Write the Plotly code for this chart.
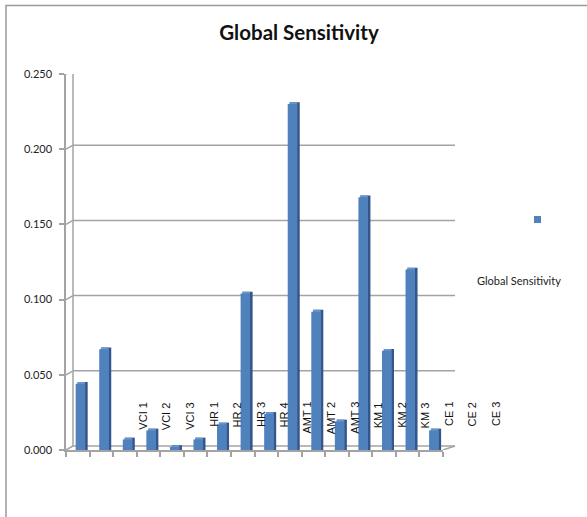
import plotly.graph_objects as go

# ---- data ----
categories = ["VCI 1", "VCI 2", "VCI 3", "HR 1", "HR 2", "HR 3", "HR 4",
              "AMT 1", "AMT 2", "AMT 3", "KM 1", "KM 2", "KM 3",
              "CE 1", "CE 2", "CE 3"]
values = [0.044, 0.067, 0.007, 0.013, 0.002, 0.007, 0.017, 0.104,
          0.024, 0.230, 0.092, 0.019, 0.168, 0.066, 0.120, 0.013]
y_ticks = [0.0, 0.05, 0.10, 0.15, 0.20, 0.25]
series_name = "Global Sensitivity"

W, H = 587, 517
ML, MR, MT, MB = 66, 144, 74, 67
PW = W - ML - MR
PH = H - MT - MB

FRONT = "#4F81BD"
SIDE = "#34568A"
TOP = "#6A95CB"
GRID = "#a3a3a3"

n = len(values)
xs = list(range(n))
lift = 0.0012

fig = go.Figure()
fig.add_trace(go.Bar(x=xs, y=[v + lift for v in values], offset=0.0, width=0.42,
                     marker=dict(color=SIDE, line=dict(width=0)), showlegend=False,
                     hoverinfo="skip"))
fig.add_trace(go.Bar(x=xs, y=[v + lift for v in values], offset=-0.02, width=0.33,
                     marker=dict(color=TOP, line=dict(width=0)), showlegend=False,
                     hoverinfo="skip"))
fig.add_trace(go.Bar(x=xs, y=values, offset=-0.09, width=0.40, name=series_name,
                     marker=dict(color=FRONT, line=dict(width=0)), showlegend=False))

shapes = []
DX, DY = 7, 4
for v in y_ticks:
    shapes.append(dict(type="line", layer="below", xref="paper", xsizemode="pixel", xanchor=0,
                       x0=0, x1=DX, yref="y", ysizemode="pixel", yanchor=v, y0=0, y1=DY,
                       line=dict(color=GRID, width=1.5)))
    shapes.append(dict(type="line", layer="below", xref="paper", xsizemode="pixel", xanchor=0,
                       x0=DX, x1=PW + 12, yref="y", ysizemode="pixel", yanchor=v, y0=DY, y1=DY,
                       line=dict(color=GRID, width=1.5)))
shapes.append(dict(type="line", layer="below", xref="paper", xsizemode="pixel", xanchor=0,
                   x0=DX, x1=DX, yref="y", ysizemode="pixel", yanchor=0, y0=DY, y1=DY + PH,
                   line=dict(color=GRID, width=1.5)))
shapes.append(dict(type="line", layer="below", xref="paper", xsizemode="pixel", xanchor=1,
                   x0=0, x1=12, yref="y", ysizemode="pixel", yanchor=0, y0=0, y1=DY,
                   line=dict(color=GRID, width=1.5)))
shapes.append(dict(type="rect", layer="below", xref="paper", yref="paper",
                   x0=(6 - ML) / PW, x1=2.0, y0=-1.0, y1=(H - MB - 5.5) / PH,
                   line=dict(color="#9a9a9a", width=1.5), fillcolor="rgba(0,0,0,0)"))
shapes.append(dict(type="rect", xref="paper", yref="paper",
                   x0=(534 - ML) / PW, x1=(541 - ML) / PW,
                   y0=(H - MB - 223) / PH, y1=(H - MB - 216) / PH,
                   line=dict(width=0), fillcolor=FRONT))

annotations = []
for i, c in enumerate(categories):
    annotations.append(dict(x=(i + 2.75 + 0.5) / n, y=0.0332, xref="paper", yref="y", text=c,
                            textangle=-90, showarrow=False, xanchor="center", yanchor="top",
                            font=dict(family="Liberation Sans, Arial", size=11, color="#111")))
annotations.append(dict(x=(519 - ML) / PW, y=(H - MB - 280) / PH, xref="paper", yref="paper",
                        text=series_name, showarrow=False, xanchor="center", yanchor="middle",
                        font=dict(family="Lato, Calibri, sans-serif", size=11, color="#222")))

fig.update_layout(
    width=W, height=H,
    margin=dict(l=ML, r=MR, t=MT, b=MB, pad=0),
    paper_bgcolor="white", plot_bgcolor="rgba(0,0,0,0)",
    barmode="overlay",
    title=dict(text="<b>Global Sensitivity</b>", x=299 / W, xref="container", xanchor="center",
               y=1 - 33 / H, yref="container", yanchor="middle",
               font=dict(family="Lato, Calibri, sans-serif", size=20.5, color="#111")),
    xaxis=dict(range=[-0.5, n - 0.5], showgrid=False, zeroline=False,
               showline=True, linecolor=GRID, linewidth=1.5,
               tickmode="array", tickvals=[i - 0.5 for i in range(n + 1)],
               ticktext=[""] * (n + 1), ticks="outside", ticklen=5,
               tickcolor=GRID, tickwidth=1.5),
    yaxis=dict(range=[0, 0.25], showgrid=False, zeroline=False,
               showline=True, linecolor=GRID, linewidth=1.5,
               tickmode="array", tickvals=y_ticks, tickformat=".3f",
               ticks="outside", ticklen=5, tickcolor=GRID, tickwidth=1.5,
               ticklabelstandoff=5,
               tickfont=dict(family="Lato, Calibri, sans-serif", size=11, color="#222")),
    shapes=shapes, annotations=annotations,
    showlegend=False,
)

fig.write_html("out.html", config={"displayModeBar": False},
               post_script="document.body.style.margin='0';document.body.style.overflow='hidden';")
